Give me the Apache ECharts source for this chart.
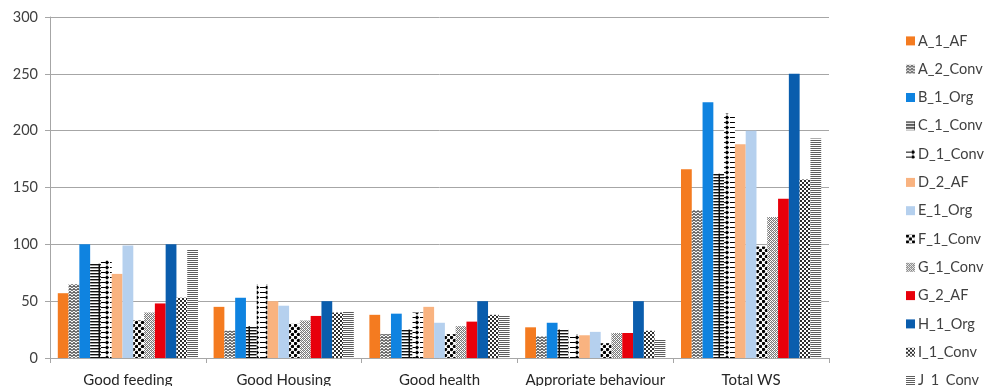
<!DOCTYPE html>
<html>
<head>
<meta charset="utf-8">
<script src="https://cdn.jsdelivr.net/npm/echarts@6/dist/echarts.min.js"></script>
<style>
  html, body { margin: 0; padding: 0; background: #ffffff; }
  #chart { width: 990px; height: 386px; }
</style>
</head>
<body>
<div id="chart"></div>
<script>
// Welfare scores per farm, by welfare principle
const categories = ['Good feeding', 'Good Housing', 'Good health', 'Approriate behaviour', 'Total WS'];
const yTicks = { min: 0, max: 300, interval: 50 };

const farmNames = ['A_1_AF', 'A_2_Conv', 'B_1_Org', 'C_1_Conv', 'D_1_Conv', 'D_2_AF', 'E_1_Org',
                   'F_1_Conv', 'G_1_Conv', 'G_2_AF', 'H_1_Org', 'I_1_Conv', 'J_1_Conv'];

const A_1_AF   = [57, 45, 38, 27, 166];
const A_2_Conv = [65, 24, 21, 19, 130];
const B_1_Org  = [100, 53, 39, 31, 225];
const C_1_Conv = [83, 28, 25, 25, 162];
const D_1_Conv = [86, 65, 40, 21, 215];
const D_2_AF   = [74, 50, 45, 20, 188];
const E_1_Org  = [99, 46, 31, 23, 200];
const F_1_Conv = [33, 30, 21, 13, 98];
const G_1_Conv = [40, 33, 28, 22, 124];
const G_2_AF   = [48, 37, 32, 22, 140];
const H_1_Org  = [100, 50, 50, 50, 250];
const I_1_Conv = [53, 40, 38, 24, 157];
const J_1_Conv = [95, 41, 37, 16, 193];

const farmValues = [A_1_AF, A_2_Conv, B_1_Org, C_1_Conv, D_1_Conv, D_2_AF, E_1_Org,
                    F_1_Conv, G_1_Conv, G_2_AF, H_1_Org, I_1_Conv, J_1_Conv];

// Fill textures for the conventional farms
function tile(w, h, draw) {
  const c = document.createElement('canvas');
  c.width = w; c.height = h;
  const g = c.getContext('2d');
  g.fillStyle = '#ffffff';
  g.fillRect(0, 0, w, h);
  draw(g, w, h);
  return { image: c, repeat: 'repeat' };
}

const zigzag = tile(4, 3, (g) => {
  g.strokeStyle = '#4a4a4a'; g.lineWidth = 1.1;
  g.beginPath(); g.moveTo(0, 2.5); g.lineTo(2, 0.5); g.lineTo(4, 2.5); g.stroke();
});
const hStripesBlack = tile(10, 3, (g) => {
  g.fillStyle = '#111111';
  g.fillRect(0, 0, 10, 1.4);
  g.fillRect(8.5, 0, 1.5, 3);
});
const dotColumn = tile(10, 5, (g) => {
  g.fillStyle = '#000000';
  g.fillRect(0, 2, 5, 1);
  g.beginPath(); g.moveTo(7, 0.3); g.lineTo(9.2, 2.5); g.lineTo(7, 4.7); g.lineTo(4.8, 2.5); g.closePath(); g.fill();
});
const bigChecker = tile(6, 6, (g) => {
  g.fillStyle = '#000000';
  g.beginPath(); g.arc(1.5, 1.5, 1.7, 0, Math.PI * 2); g.fill();
  g.beginPath(); g.arc(4.5, 4.5, 1.7, 0, Math.PI * 2); g.fill();
});
const weave = tile(4, 4, (g) => {
  g.fillStyle = '#7a7a7a';
  g.fillRect(0, 0, 1, 1); g.fillRect(1, 1, 1, 1); g.fillRect(2, 2, 1, 1); g.fillRect(3, 3, 1, 1);
  g.fillRect(2, 0, 1, 1); g.fillRect(3, 1, 1, 1); g.fillRect(0, 2, 1, 1); g.fillRect(1, 3, 1, 1);
  g.fillStyle = '#c0c0c0';
  g.fillRect(1, 0, 1, 1); g.fillRect(3, 2, 1, 1);
});
const fineChecker = tile(4, 4, (g) => {
  g.fillStyle = '#2e2e2e';
  g.fillRect(0, 0, 2, 2); g.fillRect(2, 2, 2, 2);
});
const hStripesGrey = tile(4, 2, (g) => {
  g.fillStyle = '#5e5e5e';
  g.fillRect(0, 0, 4, 1);
});

const farmFills = ['#F47B20', zigzag, '#0F83E0', hStripesBlack, dotColumn, '#F9B380', '#B5D0EE',
                   bigChecker, weave, '#E8000B', '#0A5DAD', fineChecker, hStripesGrey];

const FONT = 'Lato, "Open Sans", sans-serif';

const chart = echarts.init(document.getElementById('chart'), null, { renderer: 'canvas' });

chart.setOption({
  animation: false,
  backgroundColor: '#ffffff',
  textStyle: { fontFamily: FONT },
  grid: { left: 50, right: 161, top: 17, bottom: 28, containLabel: false, outerBoundsMode: 'none' },
  legend: {
    orient: 'vertical',
    left: 906,
    top: 33.4,
    height: 420,
    padding: 0,
    itemWidth: 9,
    itemHeight: 9,
    itemGap: 13.3,
    icon: 'rect',
    textStyle: { fontFamily: FONT, fontSize: 14.5, color: '#404040', lineHeight: 12, padding: [0, 0, 0, -2] },
    data: farmNames
  },
  xAxis: {
    type: 'category',
    data: categories,
    axisLine: { lineStyle: { color: '#A6A6A6', width: 1 } },
    axisTick: { show: true, length: 5, lineStyle: { color: '#A6A6A6' } },
    axisLabel: { fontFamily: FONT, fontSize: 15, color: '#262626', margin: 15, interval: 0 }
  },
  yAxis: {
    type: 'value',
    min: yTicks.min,
    max: yTicks.max,
    interval: yTicks.interval,
    axisLine: { show: true, lineStyle: { color: '#A6A6A6', width: 1 } },
    axisTick: { show: true, length: 5, lineStyle: { color: '#A6A6A6' } },
    axisLabel: { fontFamily: FONT, fontSize: 14.5, color: '#404040', margin: 12 },
    splitLine: { lineStyle: { color: '#A6A6A6', width: 1 } }
  },
  series: farmNames.map((name, i) => ({
    name: name,
    type: 'bar',
    data: farmValues[i],
    barGap: '0%',
    barCategoryGap: '10%',
    itemStyle: { color: farmFills[i] }
  }))
});
</script>
</body>
</html>
